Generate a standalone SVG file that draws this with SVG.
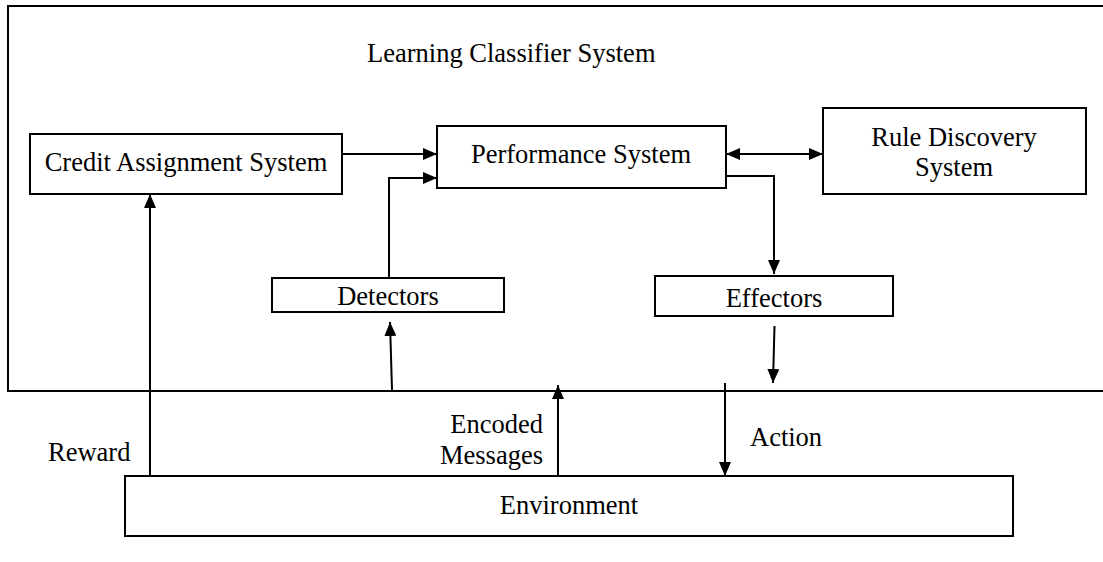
<svg xmlns="http://www.w3.org/2000/svg" width="1103" height="562" viewBox="0 0 1103 562">
<style>
.box{fill:#fff;stroke:#000;stroke-width:2}
.ln{fill:none;stroke:#000;stroke-width:2}
text{font-family:"Liberation Serif","Times New Roman",serif;font-size:26.5px;fill:#000}
.c{text-anchor:middle}
.r{text-anchor:end}
</style>
<defs>
<marker id="ah" viewBox="0 0 14 12" refX="14" refY="6" markerWidth="14" markerHeight="12" markerUnits="userSpaceOnUse" orient="auto-start-reverse">
<path d="M0,0 L14,6 L0,12 Z" fill="#000"/>
</marker>
</defs>
<g id="lcs">
<rect class="box" x="8" y="6" width="1110" height="385" fill="none"/>
<text x="367" y="62">Learning Classifier System</text>
</g>
<g id="credit">
<rect class="box" x="30" y="134" width="312" height="60"/>
<text class="c" x="186" y="171">Credit Assignment System</text>
</g>
<g id="performance">
<rect class="box" x="437" y="126" width="289" height="62"/>
<text class="c" x="581" y="163">Performance System</text>
</g>
<g id="rule">
<rect class="box" x="823" y="108" width="263" height="86"/>
<text class="c" x="954" y="146">Rule Discovery</text>
<text class="c" x="954" y="176">System</text>
</g>
<g id="detectors">
<rect class="box" x="272" y="278" width="232" height="34"/>
<text class="c" x="388" y="305">Detectors</text>
</g>
<g id="effectors">
<rect class="box" x="655" y="276" width="238" height="40"/>
<text class="c" x="774" y="307">Effectors</text>
</g>
<g id="environment">
<rect class="box" x="125" y="476" width="888" height="60"/>
<text class="c" x="569" y="514">Environment</text>
</g>
<g id="connectors">
<line class="ln" x1="342" y1="154" x2="437" y2="154" marker-end="url(#ah)"/>
<polyline class="ln" points="389,278 389,178 437,178" marker-end="url(#ah)"/>
<line class="ln" x1="726" y1="154" x2="823" y2="154" marker-start="url(#ah)" marker-end="url(#ah)"/>
<polyline class="ln" points="726,176 774,176 774,274" marker-end="url(#ah)"/>
<line class="ln" x1="392" y1="390" x2="390" y2="322" marker-end="url(#ah)"/>
<line class="ln" x1="774.5" y1="326" x2="773" y2="383" marker-end="url(#ah)"/>
<line class="ln" x1="150" y1="476" x2="150" y2="194" marker-end="url(#ah)"/>
<line class="ln" x1="558" y1="476" x2="558" y2="385" marker-end="url(#ah)"/>
<line class="ln" x1="725" y1="383" x2="725" y2="476" marker-end="url(#ah)"/>
<text x="48" y="461">Reward</text>
<text class="r" x="543" y="433">Encoded</text>
<text class="r" x="543" y="464">Messages</text>
<text x="750" y="446">Action</text>
</g>
</svg>
